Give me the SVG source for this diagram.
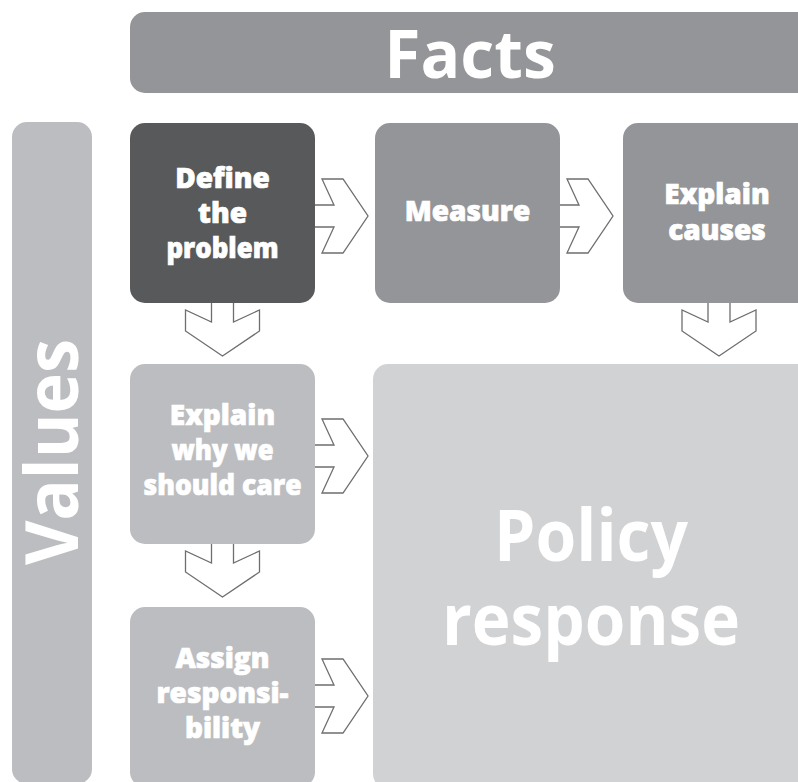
<svg xmlns="http://www.w3.org/2000/svg" width="798" height="782" viewBox="0 0 798 782">
<style>
.lbl{font-family:"Open Sans","Liberation Sans",sans-serif;font-weight:800;font-size:28px;fill:#ffffff;stroke:#ffffff;stroke-width:0.7;text-anchor:middle}
.big{font-family:"Open Sans","Liberation Sans",sans-serif;font-weight:700;fill:#ffffff;text-anchor:middle}
.arr{fill:#ffffff;stroke:#6d6e71;stroke-width:1.3;stroke-linejoin:miter}
</style>
<rect width="798" height="782" fill="#ffffff"/>
<g id="facts">
<rect x="130" y="12" width="690" height="81" rx="15" fill="#939598"/>
<text class="big" x="470" y="78" font-size="66">Facts</text>
</g>
<g id="values">
<rect x="12" y="122" width="80" height="662" rx="15" fill="#bcbdc0"/>
<text class="big" font-size="74" transform="translate(78,452) rotate(-90)" textLength="226" lengthAdjust="spacingAndGlyphs">Values</text>
</g>
<g id="define">
<rect x="130" y="123" width="185" height="180" rx="15" fill="#58595b"/>
<text class="lbl" x="222.5" y="188">Define</text>
<text class="lbl" x="222.5" y="223">the</text>
<text class="lbl" x="222.5" y="258" textLength="112" lengthAdjust="spacingAndGlyphs">problem</text>
</g>
<g id="measure">
<rect x="375" y="123" width="185" height="180" rx="15" fill="#939598"/>
<text class="lbl" x="467.5" y="221">Measure</text>
</g>
<g id="causes">
<rect x="623" y="123" width="190" height="180" rx="15" fill="#939598"/>
<text class="lbl" x="717" y="204">Explain</text>
<text class="lbl" x="717" y="240">causes</text>
</g>
<g id="care">
<rect x="130" y="364" width="185" height="180" rx="15" fill="#bcbdc0"/>
<text class="lbl" x="222.5" y="425">Explain</text>
<text class="lbl" x="222.5" y="460" textLength="102" lengthAdjust="spacingAndGlyphs">why we</text>
<text class="lbl" x="222.5" y="495" textLength="158" lengthAdjust="spacingAndGlyphs">should care</text>
</g>
<g id="assign">
<rect x="130" y="607" width="185" height="180" rx="15" fill="#bcbdc0"/>
<text class="lbl" x="222.5" y="668">Assign</text>
<text class="lbl" x="222.5" y="703">responsi-</text>
<text class="lbl" x="222.5" y="738">bility</text>
</g>
<g id="policy">
<rect x="373" y="364" width="440" height="425" rx="15" fill="#d1d2d4"/>
<text class="big" x="591" y="561" font-size="72" textLength="194" lengthAdjust="spacingAndGlyphs">Policy</text>
<text class="big" x="591" y="645" font-size="72" textLength="298" lengthAdjust="spacingAndGlyphs">response</text>
</g>
<g id="connectors">
<polyline class="arr" points="315,205 334,205 322,179 343,179 368,216 343,253 322,253 334,227 315,227"/>
<polyline class="arr" points="560,205 579,205 567,179 588,179 613,216 588,253 567,253 579,227 560,227"/>
<polyline class="arr" points="315,445 334,445 322,419 343,419 368,456 343,493 322,493 334,467 315,467"/>
<polyline class="arr" points="315,685 334,685 322,659 343,659 368,696 343,733 322,733 334,707 315,707"/>
<polyline class="arr" points="211.5,303 211.5,322 185.5,310 185.5,331 222.5,356 259.5,331 259.5,310 233.5,322 233.5,303"/>
<polyline class="arr" points="708,303 708,322 682,310 682,331 719,356 756,331 756,310 730,322 730,303"/>
<polyline class="arr" points="211.5,544 211.5,563 185.5,551 185.5,572 222.5,597 259.5,572 259.5,551 233.5,563 233.5,544"/>
</g>
</svg>
